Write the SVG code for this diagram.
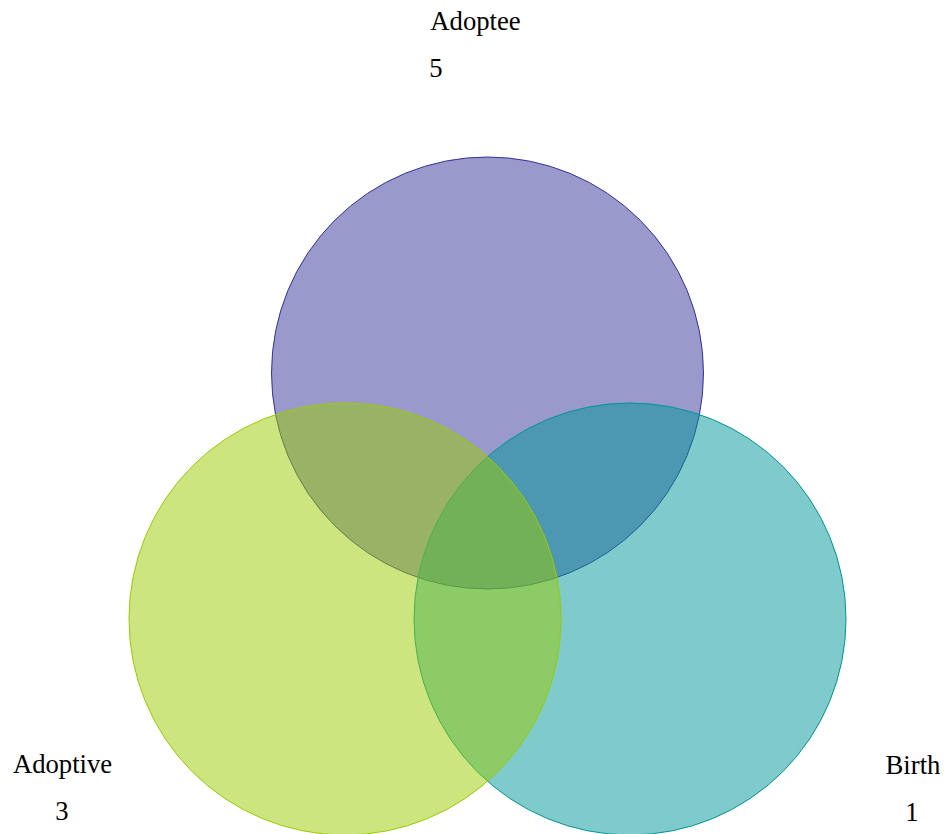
<svg xmlns="http://www.w3.org/2000/svg" width="949" height="834" viewBox="0 0 949 834">
  <style>
    .set { fill-opacity: 0.5; stroke-width: 1; }
    .lbl { font-family: "Liberation Serif", "Times New Roman", serif; font-size: 26.67px; fill: #000; text-anchor: middle; }
  </style>
  <rect width="949" height="834" fill="#ffffff"/>
  <g id="set-adoptee">
    <circle class="set" cx="487.5" cy="373" r="216" fill="#333399" stroke="#333399"/>
  </g>
  <g id="set-birth">
    <circle class="set" cx="630" cy="619" r="216" fill="#009696" stroke="#009696"/>
  </g>
  <g id="set-adoptive">
    <circle class="set" cx="345" cy="619" r="216" fill="#99cc00" stroke="#99cc00"/>
  </g>
  <g id="label-adoptee">
    <text class="lbl" x="475.5" y="30">Adoptee</text>
    <text class="lbl" x="436" y="77">5</text>
  </g>
  <g id="label-adoptive">
    <text class="lbl" x="62.5" y="773">Adoptive</text>
    <text class="lbl" x="62" y="820">3</text>
  </g>
  <g id="label-birth">
    <text class="lbl" x="913" y="774">Birth</text>
    <text class="lbl" x="912" y="821">1</text>
  </g>
</svg>
